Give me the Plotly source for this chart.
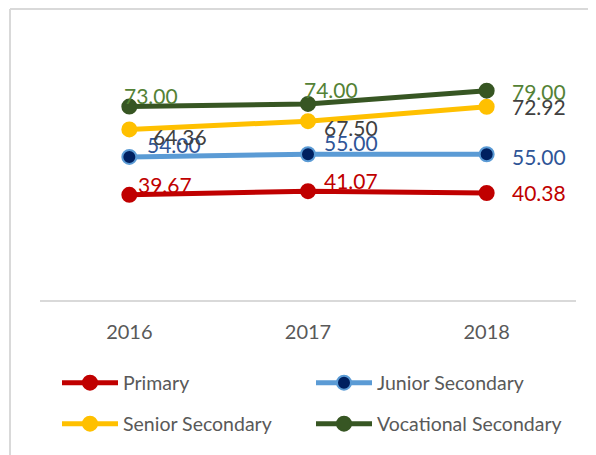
import plotly.graph_objects as go

years = ["2016", "2017", "2018"]
primary = [39.67, 41.07, 40.38]
junior = [54.00, 55.00, 55.00]
senior = [64.36, 67.50, 72.92]
vocational = [73.00, 74.00, 79.00]

# label offsets (px) relative to point: (xshift, yshift), left anchored
series = [
    dict(name="Primary", y=primary, line="#C00000", mfill="#C00000", mline="#C00000",
         lab="#C00000", legend="legend", off=[(7, 10), (14, 11), (23, 0)]),
    dict(name="Junior Secondary", y=junior, line="#5B9BD5", mfill="#002060", mline="#5B9BD5",
         lab="#2F5597", legend="legend", off=[(16, 12), (14, 12), (23, -2)]),
    dict(name="Senior Secondary", y=senior, line="#FFC000", mfill="#FFC000", mline="#FFC000",
         lab="#404040", legend="legend2", off=[(22, -7), (14, -6), (23, 0)]),
    dict(name="Vocational Secondary", y=vocational, line="#375623", mfill="#375623", mline="#375623",
         lab="#548235", legend="legend2", off=[(-7, 11), (-6, 14), (23, -1)]),
]

FONT = "Lato, 'Open Sans', sans-serif"
fig = go.Figure()
annotations = []
for s in series:
    fig.add_trace(go.Scatter(
        x=years, y=s["y"], name=s["name"], mode="lines+markers",
        line=dict(color=s["line"], width=5),
        marker=dict(size=14, color=s["mfill"], line=dict(color=s["mline"], width=2)),
        legend=s["legend"], hoverinfo="skip",
    ))
    for i, (yv, (dx, dy)) in enumerate(zip(s["y"], s["off"])):
        annotations.append(dict(
            x=i, y=yv, xref="x", yref="y", text=f"{yv:.2f}", showarrow=False,
            xanchor="left", yanchor="middle", xshift=dx, yshift=dy,
            font=dict(family=FONT, size=21, color=s["lab"]),
        ))

border = "#D9D9D9"
shapes = [
    dict(type="line", xref="paper", yref="paper", x0=-0.056, x1=-0.056, y0=1.098, y1=-0.7,
         line=dict(color=border, width=2)),
    dict(type="line", xref="paper", yref="paper", x0=-0.056, x1=1.2, y0=1.098, y1=1.098,
         line=dict(color=border, width=2)),
]

legend_common = dict(
    orientation="h", xanchor="left", yanchor="middle", xref="container", yref="container",
    x=49 / 596,
    font=dict(family=FONT, size=19.5, color="#595959"),
    entrywidth=183, entrywidthmode="pixels", itemwidth=56,
    bgcolor="rgba(0,0,0,0)", borderwidth=0,
)

fig.update_layout(
    width=596, height=455,
    margin=dict(l=32, r=28, t=27, b=163),
    paper_bgcolor="white", plot_bgcolor="white",
    font=dict(family=FONT, color="#595959"),
    xaxis=dict(type="category", range=[-0.5, 2.5], showgrid=False, showline=True,
               linecolor=border, linewidth=2,
               ticks="outside", ticklen=13, tickcolor="rgba(0,0,0,0)",
               tickfont=dict(family=FONT, size=20, color="#595959"), zeroline=False,
               fixedrange=True),
    yaxis=dict(range=[0, 100], visible=False, showgrid=False, zeroline=False),
    legend=dict(**legend_common, y=1 - 375 / 455),
    legend2=dict(**legend_common, y=1 - 416 / 455),
    annotations=annotations,
    shapes=shapes,
    showlegend=True,
)

fig.write_html("out.html")
